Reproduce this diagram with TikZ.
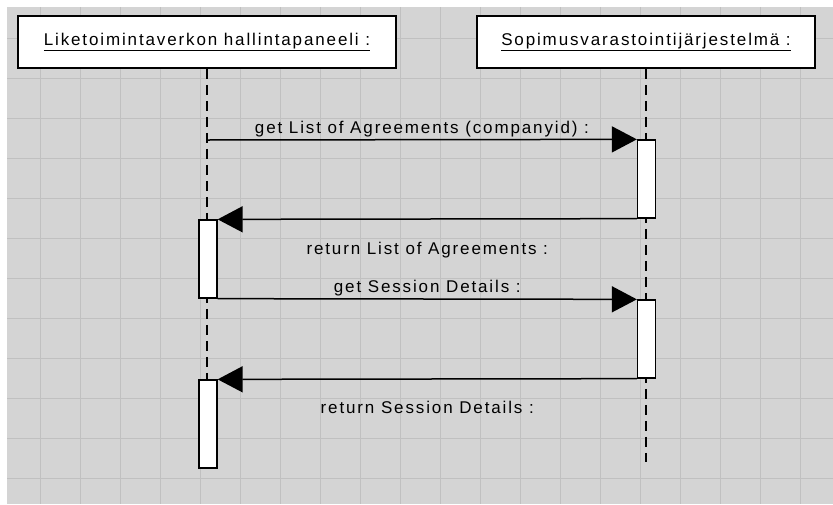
\documentclass[tikz,border=0pt]{standalone}
\usepackage{fontspec}
\setmainfont{Liberation Sans}[LetterSpace=11]
\usetikzlibrary{arrows.meta, positioning}
\definecolor{canvas}{RGB}{212,212,212}
\definecolor{gridline}{RGB}{192,192,192}
\tikzset{
    object box/.style = {draw, line width=1.5pt, fill=white, minimum width=#1, minimum height=52pt, inner sep=0pt},
    activation/.style = {draw, line width=1.3pt, fill=white, minimum width=18pt, minimum height=#1, inner sep=0pt},
}
\tikzset{
    lifeline/.style = {draw, line width=1.4pt, dash pattern=on 10pt off 6pt},
    message/.style = {draw, line width=1.5pt, -{Triangle[length=25pt, width=26pt]}},
}

\begin{document}
\begin{tikzpicture}[x=1pt, y=-1pt, font=\fontsize{17}{19}\selectfont]
            \useasboundingbox (0, 0) rectangle (833, 504);
            \fill[canvas] (7, 7) rectangle (833, 504);
            \foreach \x in {40, 80, ..., 800}
                \draw[gridline, line width=0.8pt] (\x, 7) -- (\x, 504);
            \foreach \y in {38, 78, ..., 478}
                \draw[gridline, line width=0.8pt] (7, \y) -- (833, \y);

            \node[object box=378pt] (panel) at (207, 42) {\underline{Liketoimintaverkon hallintapaneeli :}};
            \node[object box=338pt] (store) at (646, 42) {\underline{Sopimusvarastointijärjestelmä :}};

            \coordinate (panel end) at (207, 462);
            \coordinate (store end) at (646, 462);
            \draw[lifeline] (panel.south) -- (panel end);
            \draw[lifeline] (store.south) -- (store end);

            \node[activation=78pt] (store1) at (646.5, 179) {};
            \node[activation=78pt] (panel1) at (208, 259) {};
            \node[activation=78pt] (store2) at (646.5, 339) {};
            \node[activation=88pt] (panel2) at (208, 424) {};

            \coordinate (get list) at (207, 140);

            \draw[message] (get list) -- node[above=-1pt] {get List of Agreements (companyid) :} (store1.north west);
            \draw[message] (store1.south west) -- node[below=19pt] {return List of Agreements :} (panel1.north east);
            \draw[message] (panel1.south east) -- node[above=-1pt] {get Session Details :} (store2.north west);
            \draw[message] (store2.south west) -- node[below=18pt] {return Session Details :} (panel2.north east);
        \end{tikzpicture}
\end{document}
